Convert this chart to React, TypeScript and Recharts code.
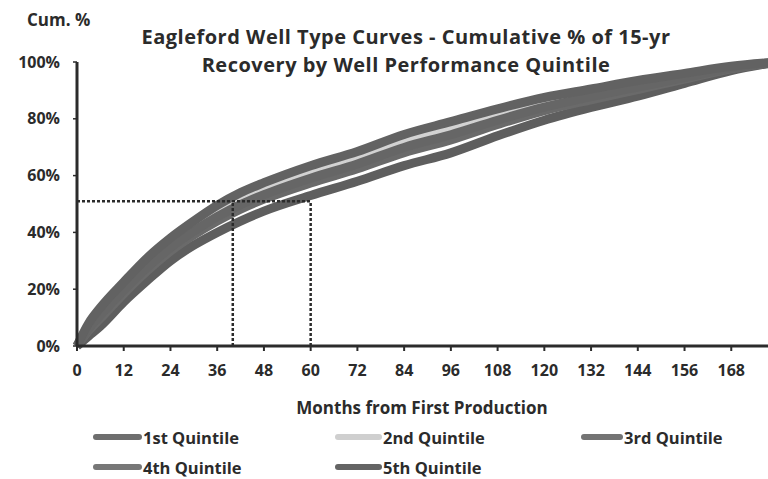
import { CartesianGrid, Line, LineChart, ReferenceLine, XAxis, YAxis } from "recharts";

const months = [0, 3, 6, 12, 18, 24, 30, 36, 42, 48, 60, 72, 84, 96, 108, 120, 132, 144, 156, 168, 180];
const q1 = [0, 8, 13.5, 22.5, 31, 38, 44, 49.5, 54, 57.5, 63.5, 68.5, 74.5, 79, 83.5, 87.5, 90.5, 93.5, 96, 98.5, 100];
const q2 = [0, 7.1, 12.2, 21.1, 29.4, 36.4, 42.3, 47.6, 52, 55.5, 61.4, 66.4, 72.3, 76.8, 81.6, 85.9, 89.2, 92.4, 95.3, 98.2, 100];
const q3 = [0, 6.1, 10.8, 19.6, 27.6, 34.6, 40.4, 45.5, 49.8, 53.3, 59.1, 64.1, 69.9, 74.4, 79.5, 84.1, 87.8, 91.2, 94.5, 97.9, 100];
const q4 = [0, 5.4, 9.7, 18.4, 26.4, 33.4, 39.1, 44, 48.2, 51.7, 57.4, 62.4, 68.1, 72.6, 78, 82.9, 86.7, 90.3, 94, 97.6, 100];
const q5 = [0, 3.5, 7, 15.5, 23, 30, 35.5, 40, 44, 47.5, 53, 58, 63.5, 68, 74, 79.5, 84, 88, 92.5, 97, 100];

const xTicks = [0, 12, 24, 36, 48, 60, 72, 84, 96, 108, 120, 132, 144, 156, 168];
const yTicks = [0, 20, 40, 60, 80, 100];
const halfPoint = 51;
const markMonths = [40, 60];

const series = [
  { key: "q2", name: "2nd Quintile", color: "#d2d2d2", values: q2 },
  { key: "q5", name: "5th Quintile", color: "#5e5e5e", values: q5 },
  { key: "q4", name: "4th Quintile", color: "#6a6a6a", values: q4 },
  { key: "q3", name: "3rd Quintile", color: "#666666", values: q3 },
  { key: "q1", name: "1st Quintile", color: "#626262", values: q1 },
];

const data = months.map((m, i) => {
  const row: Record<string, number> = { month: m };
  series.forEach((s) => (row[s.key] = s.values[i]));
  return row;
});

const legendItems = [
  { name: "1st Quintile", color: "#6e6e6e", left: 93, top: 437, sw: 49 },
  { name: "2nd Quintile", color: "#cfcfcf", left: 335, top: 437, sw: 47 },
  { name: "3rd Quintile", color: "#747474", left: 581, top: 437, sw: 42 },
  { name: "4th Quintile", color: "#777777", left: 93, top: 467, sw: 49 },
  { name: "5th Quintile", color: "#646464", left: 335, top: 467, sw: 47 },
];

const ink = "#2b2b2b";
const font = "'Open Sans', sans-serif";

export default function App() {
  const yTickStyle = { fill: ink, fontSize: 16, fontWeight: 700, fontFamily: font };
  const xTickStyle = { fill: ink, fontSize: 16, fontWeight: 700, fontFamily: font };
  const center = {
    position: "absolute" as const,
    transform: "translateX(-50%)",
    whiteSpace: "nowrap" as const,
    textAlign: "center" as const,
  };
  return (
    <div
      style={{
        position: "fixed",
        left: 0,
        top: 0,
        width: 768,
        height: 479,
        overflow: "hidden",
        background: "#fff",
        fontFamily: font,
        fontWeight: 700,
        color: ink,
      }}
    >
      <LineChart width={800} height={479} data={data} margin={{ top: 62, right: 22, left: 0, bottom: 103 }}>
        <CartesianGrid stroke="none" />
        <XAxis
          dataKey="month"
          type="number"
          domain={[0, 180]}
          ticks={xTicks}
          interval={0}
          height={30}
          tick={xTickStyle}
          tickSize={5}
          tickMargin={14}
          axisLine={{ stroke: ink, strokeWidth: 3 }}
          tickLine={{ stroke: ink, strokeWidth: 2 }}
        />
        <YAxis
          width={77}
          domain={[0, 100]}
          ticks={yTicks}
          tickFormatter={(v) => `${v}%`}
          tick={yTickStyle}
          tickSize={4}
          tickMargin={13}
          axisLine={{ stroke: ink, strokeWidth: 3 }}
          tickLine={{ stroke: ink, strokeWidth: 1.5 }}
        />
        {series.map((s) => (
          <Line
            key={s.key}
            dataKey={s.key}
            name={s.name}
            type="monotone"
            stroke={s.color}
            strokeWidth={9}
            dot={false}
            isAnimationActive={false}
          />
        ))}
        <ReferenceLine
          segment={[
            { x: 0, y: halfPoint },
            { x: markMonths[1], y: halfPoint },
          ]}
          stroke={ink}
          strokeWidth={2.5}
          strokeDasharray="3 2"
        />
        {markMonths.map((m) => (
          <ReferenceLine
            key={m}
            segment={[
              { x: m, y: 0 },
              { x: m, y: halfPoint },
            ]}
            stroke={ink}
            strokeWidth={2.5}
            strokeDasharray="3 2"
          />
        ))}
      </LineChart>

      <div style={{ position: "absolute", left: 27, top: 8, fontSize: 17 }}>Cum. %</div>
      <div style={{ ...center, left: 406, top: 23, fontSize: 20, letterSpacing: 0.5, lineHeight: "28px" }}>
        Eagleford Well Type Curves - Cumulative % of 15-yr
        <br />
        Recovery by Well Performance Quintile
      </div>
      <div style={{ ...center, left: 422, top: 396, fontSize: 17 }}>Months from First Production</div>

      {legendItems.map((it) => (
        <div
          key={it.name}
          style={{
            position: "absolute",
            left: it.left,
            top: it.top - 12,
            height: 24,
            display: "flex",
            alignItems: "center",
            fontSize: 16.5,
            whiteSpace: "nowrap",
          }}
        >
          <span
            style={{
              display: "inline-block",
              width: it.sw,
              height: 6,
              borderRadius: 3,
              background: it.color,
              marginRight: 1,
            }}
          />
          {it.name}
        </div>
      ))}
    </div>
  );
}
